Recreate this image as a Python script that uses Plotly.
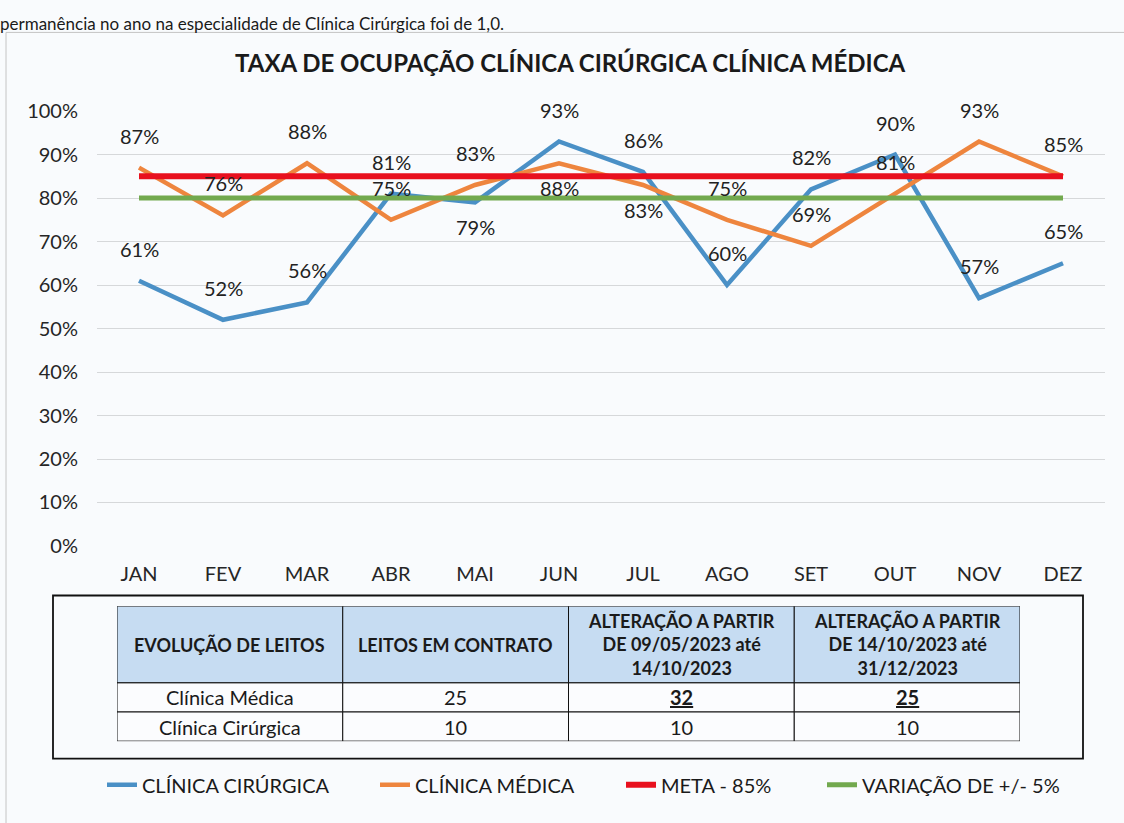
import plotly.graph_objects as go

# ---------------- data ----------------
months = ["JAN", "FEV", "MAR", "ABR", "MAI", "JUN", "JUL", "AGO", "SET", "OUT", "NOV", "DEZ"]
clinica_cirurgica = [0.61, 0.52, 0.56, 0.81, 0.79, 0.93, 0.86, 0.60, 0.82, 0.90, 0.57, 0.65]
clinica_medica = [0.87, 0.76, 0.88, 0.75, 0.83, 0.88, 0.83, 0.75, 0.69, 0.81, 0.93, 0.85]
meta = [0.85, 0.85, 0.85, 0.85, 0.85, 0.85, 0.85, 0.85, 0.85, 0.85, 0.85, 0.85]
variacao = [0.80, 0.80, 0.80, 0.80, 0.80, 0.80, 0.80, 0.80, 0.80, 0.80, 0.80, 0.80]
y_ticks = [0.0, 0.1, 0.2, 0.3, 0.4, 0.5, 0.6, 0.7, 0.8, 0.9, 1.0]

# label placement (style): "a" = above, "b" = below
pos_cirurgica = ["a", "a", "a", "a", "b", "a", "a", "a", "a", "a", "a", "a"]
pos_medica = ["a", "a", "a", "a", "a", "b", "b", "a", "a", "a", "a", "a"]

table_header = ["EVOLUÇÃO DE LEITOS", "LEITOS EM CONTRATO",
                "ALTERAÇÃO A PARTIR<br>DE 09/05/2023 até<br>14/10/2023",
                "ALTERAÇÃO A PARTIR<br>DE 14/10/2023 até<br>31/12/2023"]
table_col1 = ["Clínica Médica", "Clínica Cirúrgica"]
table_col2 = ["25", "10"]
table_col3 = ["32", "10"]
table_col4 = ["25", "10"]
underlined = [[False, False], [False, False], [True, False], [True, False]]

title_text = "TAXA DE OCUPAÇÃO CLÍNICA CIRÚRGICA CLÍNICA MÉDICA"
page_text = "permanência no ano na especialidade de Clínica Cirúrgica foi de 1,0."

# ---------------- style ----------------
W, H = 1124, 823
FONT = "Lato, Carlito, Calibri, sans-serif"
BG = "#f9fbfd"
C_BLUE = "#4a90c6"
C_ORANGE = "#ee853e"
C_RED = "#e8101e"
C_GREEN = "#72a94e"
HEADER_FILL = "#c6dcf2"
row_heights = [79, 30, 30]  # table row heights (style, px units of table axis)


def px_x(p):
    return p / W


def px_y(p):
    return 1 - p / H


fig = go.Figure()

fig.add_trace(go.Scatter(x=months, y=clinica_cirurgica, mode="lines", name="CLÍNICA CIRÚRGICA",
                         line=dict(color=C_BLUE, width=4.5), legend="legend"))
fig.add_trace(go.Scatter(x=months, y=clinica_medica, mode="lines", name="CLÍNICA MÉDICA",
                         line=dict(color=C_ORANGE, width=4.5), legend="legend2"))
fig.add_trace(go.Scatter(x=months, y=meta, mode="lines", name="META - 85%",
                         line=dict(color=C_RED, width=6), legend="legend3"))
fig.add_trace(go.Scatter(x=months, y=variacao, mode="lines", name="VARIAÇÃO DE +/- 5%",
                         line=dict(color=C_GREEN, width=5), legend="legend4"))

annotations = []
for series, positions in ((clinica_cirurgica, pos_cirurgica), (clinica_medica, pos_medica)):
    for m, v, p in zip(months, series, positions):
        annotations.append(dict(
            x=m, y=v, xref="x", yref="y", text=f"{round(v * 100)}%", showarrow=False,
            yshift=32 if p == "a" else -25,
            font=dict(family=FONT, size=20, color="#222222")))

annotations.append(dict(
    x=px_x(570), y=px_y(51), xref="paper", yref="paper", text=f"<b>{title_text}</b>",
    showarrow=False, xanchor="center", yanchor="middle",
    font=dict(family=FONT, size=24, color="#1a1a1a")))

annotations.append(dict(
    x=0, y=1, xref="paper", yref="paper", text=page_text, showarrow=False,
    xanchor="left", yanchor="top", xshift=-2, yshift=2,
    font=dict(family=FONT, size=17, color="#1a1a1a")))

# ---------------- table (drawn on its own axis pair) ----------------
shapes = []
row_edges = [0]
for h in row_heights:
    row_edges.append(row_edges[-1] + h)

cols = [table_col1, table_col2, table_col3, table_col4]
for ci, head in enumerate(table_header):
    shapes.append(dict(type="rect", xref="x2", yref="y2", x0=ci, x1=ci + 1,
                       y0=row_edges[0], y1=row_edges[1], fillcolor=HEADER_FILL,
                       line=dict(color="#111111", width=1)))
    head_txt = "<br>".join(f"<b>{part}</b>" for part in head.split("<br>"))
    annotations.append(dict(x=ci + 0.5, y=(row_edges[0] + row_edges[1]) / 2, xref="x2", yref="y2",
                            text=head_txt, showarrow=False, align="center",
                            xanchor="center", yanchor="middle",
                            font=dict(family=FONT, size=18, color="#1a1a1a")))
    for ri, val in enumerate(cols[ci]):
        y0, y1 = row_edges[ri + 1], row_edges[ri + 2]
        shapes.append(dict(type="rect", xref="x2", yref="y2", x0=ci, x1=ci + 1, y0=y0, y1=y1,
                           fillcolor="#fbfcfe", line=dict(color="#111111", width=1)))
        txt = val
        if underlined[ci][ri]:
            txt = f'<b><span style="text-decoration:underline double">{val}</span></b>'
        annotations.append(dict(x=ci + 0.5, y=(y0 + y1) / 2, xref="x2", yref="y2", text=txt,
                                showarrow=False, xanchor="center", yanchor="middle",
                                font=dict(family=FONT, size=20, color="#1a1a1a")))

shapes += [
    # chart frame
    dict(type="rect", xref="paper", yref="paper", x0=px_x(6), x1=px_x(1140), y0=px_y(840), y1=px_y(20),
         line=dict(color="#c4c4c4", width=1), fillcolor="rgba(0,0,0,0)", layer="below"),
    # box around table
    dict(type="rect", xref="paper", yref="paper", x0=px_x(53), x1=px_x(1083), y0=px_y(768), y1=px_y(600),
         line=dict(color="#111111", width=1.8), fillcolor="rgba(0,0,0,0)"),
]

legend_common = dict(orientation="h", xanchor="left", yanchor="middle", y=px_y(795),
                     font=dict(family=FONT, size=20, color="#1a1a1a"), bgcolor="rgba(0,0,0,0)")

fig.update_layout(
    width=W, height=H,
    margin=dict(l=0, r=0, t=0, b=0),
    paper_bgcolor=BG, plot_bgcolor=BG,
    font=dict(family=FONT, size=20, color="#262626"),
    showlegend=True,
    legend=dict(x=px_x(102), **legend_common),
    legend2=dict(x=px_x(375), **legend_common),
    legend3=dict(x=px_x(621), **legend_common),
    legend4=dict(x=px_x(822), **legend_common),
    xaxis=dict(domain=[px_x(97), px_x(1105)], range=[-0.5, 11.5], type="category",
               showgrid=False, showline=False, zeroline=False, ticks="",
               ticklabelstandoff=14, tickfont=dict(family=FONT, size=20, color="#262626")),
    yaxis=dict(domain=[px_y(549), px_y(101)], range=[0, 1], tickvals=y_ticks, tickformat=".0%",
               showgrid=True, gridcolor="#d6d8da", gridwidth=1, zeroline=False, showline=False,
               ticks="", ticklabelstandoff=18, tickfont=dict(family=FONT, size=20, color="#262626")),
    xaxis2=dict(domain=[px_x(117), px_x(1020)], range=[0, len(table_header)], visible=False,
                fixedrange=True, anchor="y2"),
    yaxis2=dict(domain=[px_y(611 + row_edges[-1]), px_y(611)], range=[row_edges[-1], 0],
                visible=False, fixedrange=True, anchor="x2"),
    annotations=annotations,
    shapes=shapes,
)

fig.write_html("out.html", config={"displayModeBar": False},
               post_script="document.body.style.margin='0px';document.body.style.overflow='hidden';")
